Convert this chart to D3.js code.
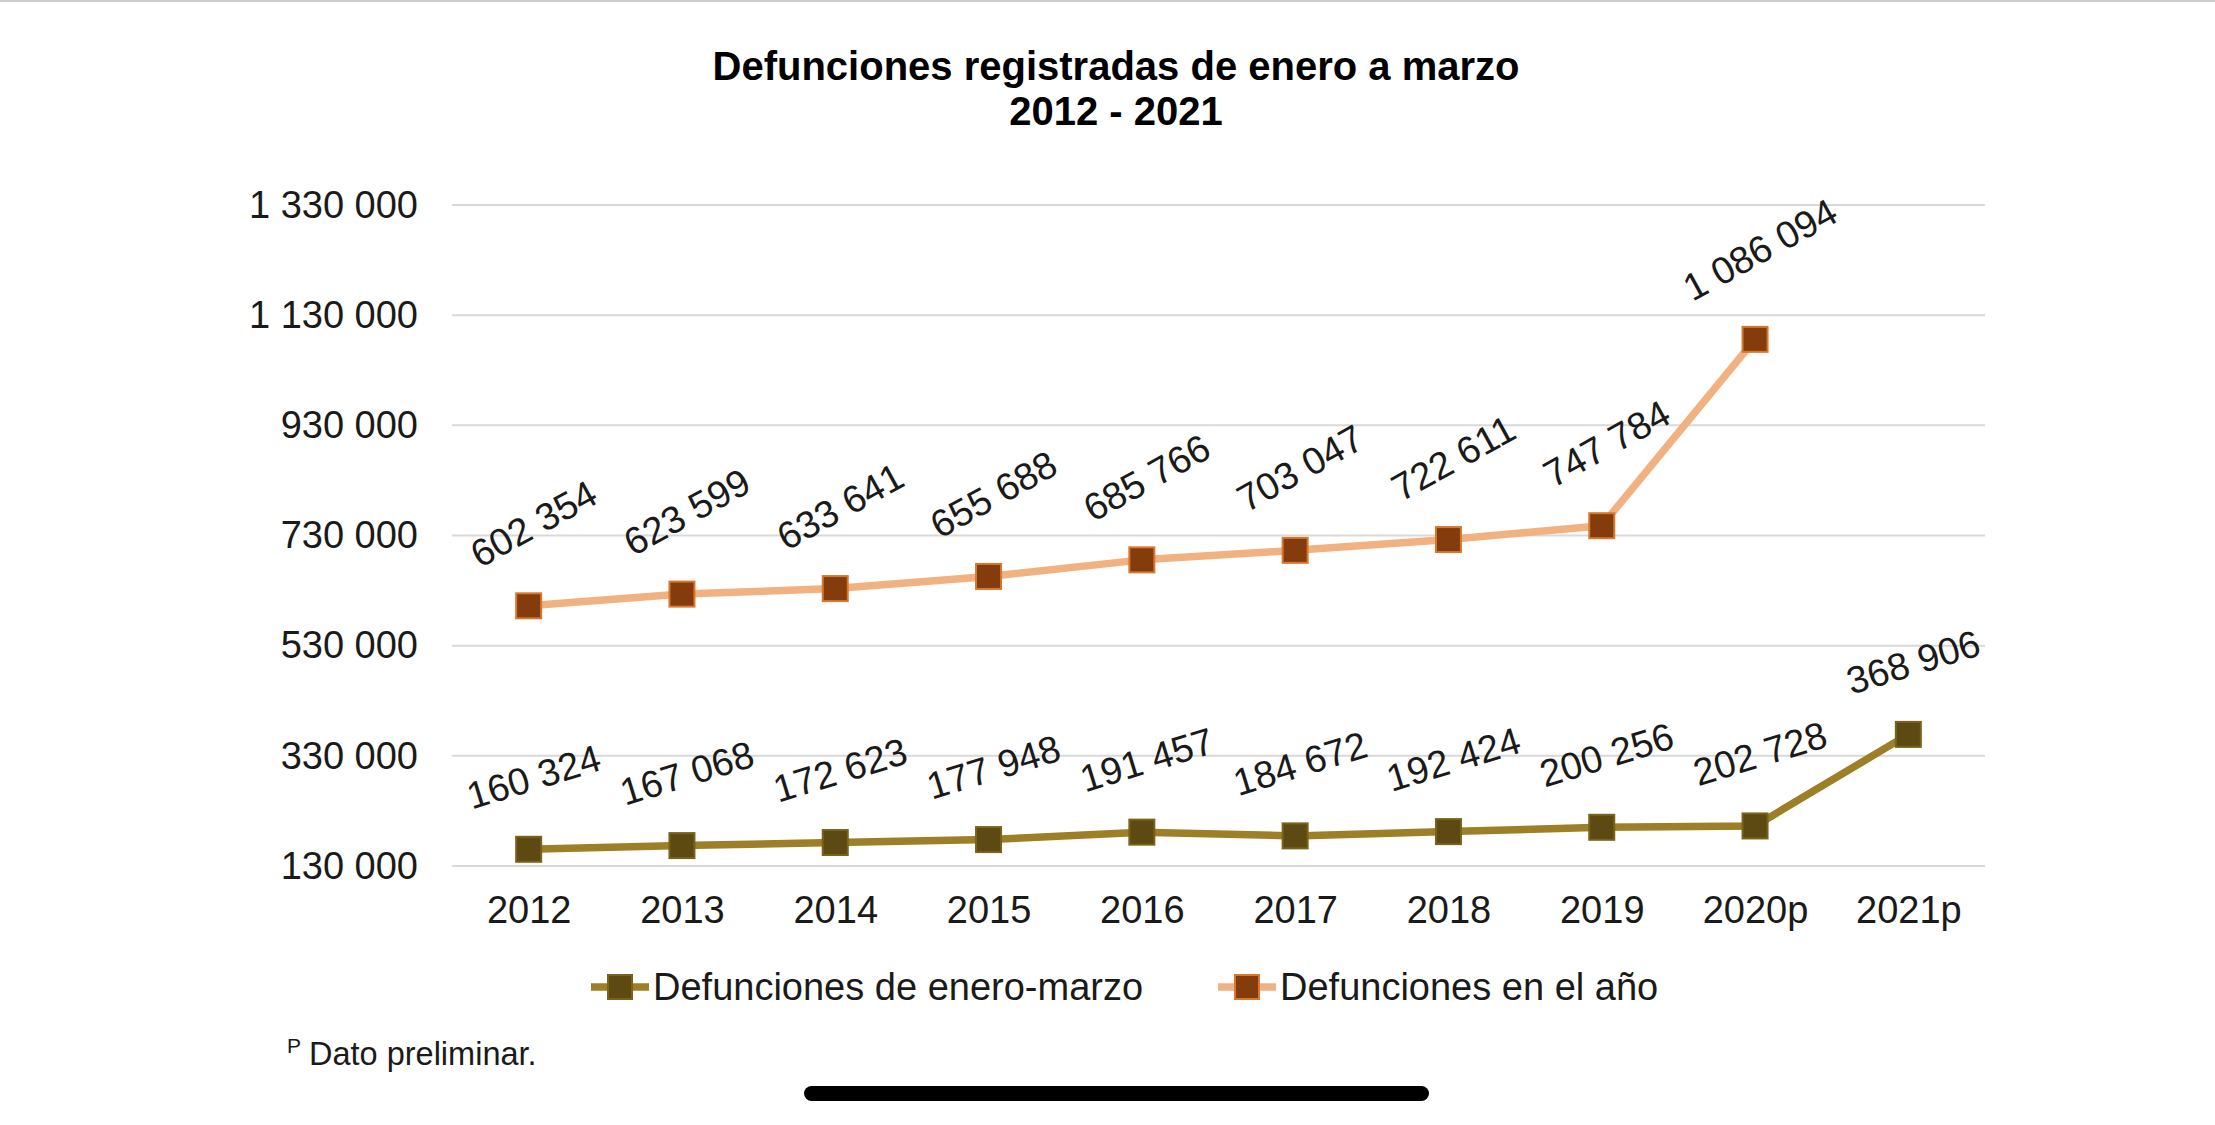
<!DOCTYPE html>
<html>
<head>
<meta charset="utf-8">
<script src="https://cdn.jsdelivr.net/npm/d3@7"></script>
<style>
  html,body{margin:0;padding:0;background:#fff;}
  svg{display:block;font-family:"Liberation Sans",Arial,sans-serif;}
</style>
</head>
<body>
<div id="chart"></div>
<script>
// data
const years=['2012','2013','2014','2015','2016','2017','2018','2019','2020p','2021p']
const eneroMarzo=[160324,167068,172623,177948,191457,184672,192424,200256,202728,368906]
const enElAnio=[602354,623599,633641,655688,685766,703047,722611,747784,1086094,null]
const yTicks=[130000,330000,530000,730000,930000,1130000,1330000]
const seriesNames=['Defunciones de enero-marzo','Defunciones en el año']

const W=2215,H=1125
const margin={top:205,right:230,bottom:259,left:452}
const width=W-margin.left-margin.right,
  height=H-margin.top-margin.bottom

const fmt=d3.formatLocale({decimal:',',thousands:' ',grouping:[3],currency:['','']}).format(',')

const svg=d3.select('#chart').append('svg')
	.attr('width',W)
	.attr('height',H)

// thin screenshot border on top
svg.append('rect')
	.attr('x',0).attr('y',0)
	.attr('width',W).attr('height',2)
	.attr('fill','#cfcfcf')

svg.append('text')
	.attr('x',1116).attr('y',80)
	.attr('text-anchor','middle')
	.attr('font-size',40).attr('font-weight','bold')
	.text('Defunciones registradas de enero a marzo')
svg.append('text')
	.attr('x',1116).attr('y',125)
	.attr('text-anchor','middle')
	.attr('font-size',40).attr('font-weight','bold')
	.text('2012 - 2021')

const g=svg.append('g')
	.attr('transform','translate('+margin.left+','+margin.top+')')

const xScale=d3.scalePoint()
	.domain(years)
	.range([0,width])
	.padding(0.5)

const yScale=d3.scaleLinear()
	.domain([130000,1330000])
	.range([height,0])

// gridlines
g.append('g')
	.selectAll('line')
	.data(yTicks)
	.join('line')
	.attr('x1',0).attr('x2',width)
	.attr('y1',d=>yScale(d)).attr('y2',d=>yScale(d))
	.attr('stroke','#d9d9d9')
	.attr('stroke-width',2)

const yAxis=d3.axisLeft(yScale)
	.tickValues(yTicks)
	.tickFormat(fmt)
	.tickSize(0)
	.tickPadding(34)

g.append('g')
	.attr('class','y-axis')
	.call(yAxis)
	.call(a=>a.select('.domain').remove())
	.selectAll('text')
	.attr('font-size',38)
	.attr('fill','#1a1a1a')
	.attr('font-family','"Liberation Sans",Arial,sans-serif')

const xAxis=d3.axisBottom(xScale)
	.tickSize(0)
	.tickPadding(0)

g.append('g')
	.attr('class','x-axis')
	.attr('transform',`translate(0,${height})`)
	.call(xAxis)
	.call(a=>a.select('.domain').remove())
	.selectAll('text')
	.attr('dy',null)
	.attr('y',57)
	.attr('font-size',38)
	.attr('fill','#1a1a1a')
	.attr('font-family','"Liberation Sans",Arial,sans-serif')

const series=[
	{name:seriesNames[0],values:eneroMarzo,line:'#9c7f27',fill:'#5c4a12',edge:'#7a6219',angle:-17,gap:34},
	{name:seriesNames[1],values:enElAnio,line:'#f2b181',fill:'#843c0c',edge:'#d8772e',angle:-29,gap:32}
]

const line=d3.line()
	.defined(d=>d.v!=null)
	.x(d=>xScale(d.year))
	.y(d=>yScale(d.v))

series.forEach(s=>{
	const pts=years.map((y,i)=>({year:y,v:s.values[i]}))
	const sg=g.append('g')

	sg.append('path')
		.datum(pts)
		.attr('fill','none')
		.attr('stroke',s.line)
		.attr('stroke-width',7.5)
		.attr('stroke-linejoin','round')
		.attr('d',line)

	const valid=pts.filter(d=>d.v!=null)

	sg.selectAll('rect')
		.data(valid)
		.join('rect')
		.attr('x',d=>xScale(d.year)-12.5)
		.attr('y',d=>yScale(d.v)-12.5)
		.attr('width',25).attr('height',25)
		.attr('fill',s.fill)
		.attr('stroke',s.edge)
		.attr('stroke-width',2)

	// rotated value labels, their box sits a little above the marker
	const rad=Math.abs(s.angle)*Math.PI/180
	sg.selectAll('text.lbl')
		.data(valid)
		.join('text')
		.attr('class','lbl')
		.attr('text-anchor','middle')
		.attr('dominant-baseline','central')
		.attr('font-size',38)
		.attr('fill','#1a1a1a')
		.text(d=>fmt(d.v))
		.each(function(d){
			const L=this.getComputedTextLength()
			const half=(L*Math.sin(rad)+38*Math.cos(rad))/2
			const cx=xScale(d.year)+5
			const cy=yScale(d.v)-s.gap-half
			d3.select(this)
				.attr('transform',`translate(${cx},${cy}) rotate(${s.angle})`)
		})
})

// legend
const legend=svg.append('g')
	.attr('transform','translate(0,987)')
const legendX=[591,1218]
series.forEach((s,i)=>{
	const lg=legend.append('g').attr('transform',`translate(${legendX[i]},0)`)
	lg.append('line')
		.attr('x1',0).attr('x2',58)
		.attr('y1',0).attr('y2',0)
		.attr('stroke',s.line).attr('stroke-width',7.5)
	lg.append('rect')
		.attr('x',17).attr('y',-12)
		.attr('width',24).attr('height',24)
		.attr('fill',s.fill)
		.attr('stroke',s.edge).attr('stroke-width',2)
	lg.append('text')
		.attr('x',62).attr('y',13)
		.attr('font-size',38)
		.attr('fill','#1a1a1a')
		.text(s.name)
})

// footnote
svg.append('text')
	.attr('x',287).attr('y',1053)
	.attr('font-size',21)
	.attr('fill','#1a1a1a')
	.text('P')
svg.append('text')
	.attr('x',309).attr('y',1065)
	.attr('font-size',32.5)
	.attr('fill','#1a1a1a')
	.text('Dato preliminar.')

// home indicator bar of the screenshot
svg.append('rect')
	.attr('x',804).attr('y',1086)
	.attr('width',625).attr('height',15)
	.attr('rx',7.5)
	.attr('fill','#000')
</script>
</body>
</html>
